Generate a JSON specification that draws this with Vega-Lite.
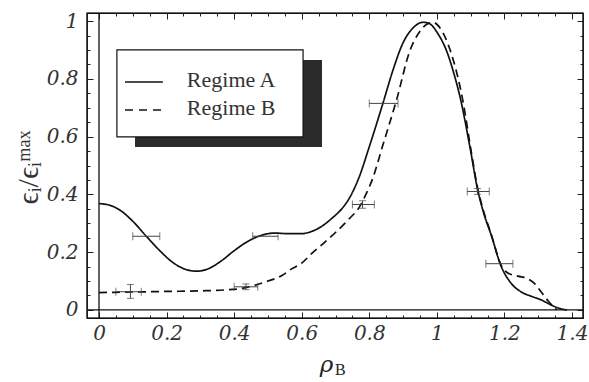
{
  "$schema": "https://vega.github.io/schema/vega-lite/v6.json",
  "width": 496,
  "height": 305,
  "autosize": {"type": "none"},
  "padding": {"left": 87, "top": 13, "right": 6, "bottom": 64},
  "background": "white",
  "config": {
    "view": {"stroke": "#111", "strokeWidth": 1.2},
    "axis": {"grid": false, "domain": false, "labelFont": "DejaVu Serif", "labelFontStyle": "italic", "labelFontSize": 20, "labelColor": "#333", "ticks": true, "tickColor": "#222", "tickWidth": 1, "labelOverlap": false}
  },
  "datasets": {
    "one": [{}],
    "curves": [
      {"series": "Regime A", "x": 0, "y": 0.368}, {"series": "Regime A", "x": 0.03, "y": 0.363}, {"series": "Regime A", "x": 0.06, "y": 0.347}, {"series": "Regime A", "x": 0.1, "y": 0.307}, {"series": "Regime A", "x": 0.14, "y": 0.255}, {"series": "Regime A", "x": 0.18, "y": 0.205}, {"series": "Regime A", "x": 0.22, "y": 0.163}, {"series": "Regime A", "x": 0.26, "y": 0.139}, {"series": "Regime A", "x": 0.29, "y": 0.134}, {"series": "Regime A", "x": 0.32, "y": 0.141}, {"series": "Regime A", "x": 0.36, "y": 0.168}, {"series": "Regime A", "x": 0.4, "y": 0.205}, {"series": "Regime A", "x": 0.44, "y": 0.237}, {"series": "Regime A", "x": 0.48, "y": 0.258}, {"series": "Regime A", "x": 0.52, "y": 0.266}, {"series": "Regime A", "x": 0.56, "y": 0.264}, {"series": "Regime A", "x": 0.6, "y": 0.264}, {"series": "Regime A", "x": 0.63, "y": 0.272}, {"series": "Regime A", "x": 0.66, "y": 0.29}, {"series": "Regime A", "x": 0.69, "y": 0.318}, {"series": "Regime A", "x": 0.72, "y": 0.352}, {"series": "Regime A", "x": 0.74, "y": 0.385}, {"series": "Regime A", "x": 0.77, "y": 0.46}, {"series": "Regime A", "x": 0.8, "y": 0.565}, {"series": "Regime A", "x": 0.84, "y": 0.714}, {"series": "Regime A", "x": 0.87, "y": 0.83}, {"series": "Regime A", "x": 0.9, "y": 0.925}, {"series": "Regime A", "x": 0.93, "y": 0.977}, {"series": "Regime A", "x": 0.96, "y": 0.996}, {"series": "Regime A", "x": 0.98, "y": 0.99}, {"series": "Regime A", "x": 1.0, "y": 0.962}, {"series": "Regime A", "x": 1.03, "y": 0.893}, {"series": "Regime A", "x": 1.05, "y": 0.82}, {"series": "Regime A", "x": 1.07, "y": 0.73}, {"series": "Regime A", "x": 1.1, "y": 0.55}, {"series": "Regime A", "x": 1.12, "y": 0.42}, {"series": "Regime A", "x": 1.14, "y": 0.33}, {"series": "Regime A", "x": 1.16, "y": 0.262}, {"series": "Regime A", "x": 1.19, "y": 0.152}, {"series": "Regime A", "x": 1.22, "y": 0.092}, {"series": "Regime A", "x": 1.25, "y": 0.062}, {"series": "Regime A", "x": 1.28, "y": 0.047}, {"series": "Regime A", "x": 1.31, "y": 0.034}, {"series": "Regime A", "x": 1.34, "y": 0.016}, {"series": "Regime A", "x": 1.37, "y": 0.003}, {"series": "Regime A", "x": 1.385, "y": 0},
      {"series": "Regime B", "x": 0, "y": 0.06}, {"series": "Regime B", "x": 0.1, "y": 0.062}, {"series": "Regime B", "x": 0.2, "y": 0.064}, {"series": "Regime B", "x": 0.3, "y": 0.066}, {"series": "Regime B", "x": 0.37, "y": 0.069}, {"series": "Regime B", "x": 0.42, "y": 0.074}, {"series": "Regime B", "x": 0.46, "y": 0.085}, {"series": "Regime B", "x": 0.5, "y": 0.1}, {"series": "Regime B", "x": 0.54, "y": 0.118}, {"series": "Regime B", "x": 0.57, "y": 0.142}, {"series": "Regime B", "x": 0.6, "y": 0.162}, {"series": "Regime B", "x": 0.63, "y": 0.196}, {"series": "Regime B", "x": 0.66, "y": 0.226}, {"series": "Regime B", "x": 0.7, "y": 0.268}, {"series": "Regime B", "x": 0.74, "y": 0.315}, {"series": "Regime B", "x": 0.77, "y": 0.355}, {"series": "Regime B", "x": 0.79, "y": 0.4}, {"series": "Regime B", "x": 0.81, "y": 0.455}, {"series": "Regime B", "x": 0.84, "y": 0.57}, {"series": "Regime B", "x": 0.88, "y": 0.724}, {"series": "Regime B", "x": 0.92, "y": 0.897}, {"series": "Regime B", "x": 0.95, "y": 0.965}, {"series": "Regime B", "x": 0.975, "y": 0.992}, {"series": "Regime B", "x": 0.99, "y": 0.995}, {"series": "Regime B", "x": 1.01, "y": 0.975}, {"series": "Regime B", "x": 1.04, "y": 0.897}, {"series": "Regime B", "x": 1.077, "y": 0.724}, {"series": "Regime B", "x": 1.1, "y": 0.56}, {"series": "Regime B", "x": 1.12, "y": 0.425}, {"series": "Regime B", "x": 1.14, "y": 0.335}, {"series": "Regime B", "x": 1.16, "y": 0.265}, {"series": "Regime B", "x": 1.19, "y": 0.155}, {"series": "Regime B", "x": 1.21, "y": 0.128}, {"series": "Regime B", "x": 1.24, "y": 0.117}, {"series": "Regime B", "x": 1.27, "y": 0.107}, {"series": "Regime B", "x": 1.29, "y": 0.09}, {"series": "Regime B", "x": 1.31, "y": 0.06}, {"series": "Regime B", "x": 1.33, "y": 0.03}, {"series": "Regime B", "x": 1.355, "y": 0}
    ],
    "errbars": [
      {"x": 0.14, "xmin": 0.1, "xmax": 0.18, "y": 0.255},
      {"x": 0.49, "xmin": 0.455, "xmax": 0.53, "y": 0.255},
      {"x": 0.093, "xmin": 0.05, "xmax": 0.125, "y": 0.063, "ymin": 0.04, "ymax": 0.088},
      {"x": 0.435, "xmin": 0.4, "xmax": 0.47, "y": 0.08, "ymin": 0.07, "ymax": 0.09},
      {"x": 0.78, "xmin": 0.75, "xmax": 0.815, "y": 0.365, "ymin": 0.352, "ymax": 0.378},
      {"x": 0.84, "xmin": 0.8, "xmax": 0.885, "y": 0.715},
      {"x": 1.12, "xmin": 1.09, "xmax": 1.155, "y": 0.41, "ymin": 0.4, "ymax": 0.42},
      {"x": 1.185, "xmin": 1.145, "xmax": 1.225, "y": 0.16}
    ]
  },
  "layer": [
    {
      "data": {"name": "one"},
      "mark": {"type": "rect", "fill": null, "fillOpacity": 0, "stroke": "#111", "strokeWidth": 1.2},
      "encoding": {
        "x": {"datum": -0.0355, "type": "quantitative", "axis": null},
        "x2": {"datum": 1.4325},
        "y": {"datum": -0.028, "type": "quantitative", "axis": null},
        "y2": {"datum": 1.028}
      }
    },
    {
      "data": {"name": "one"},
      "mark": {"type": "rect", "fill": "#2b2b2b"},
      "encoding": {
        "x": {"datum": 0.1066, "type": "quantitative", "axis": null},
        "x2": {"datum": 0.66},
        "y": {"datum": 0.865, "type": "quantitative", "axis": null},
        "y2": {"datum": 0.564}
      }
    },
    {
      "data": {"name": "one"},
      "mark": {"type": "rect", "fill": "white", "stroke": "#111", "strokeWidth": 1.2},
      "encoding": {
        "x": {"datum": 0.053, "type": "quantitative", "axis": null},
        "x2": {"datum": 0.604},
        "y": {"datum": 0.9, "type": "quantitative", "axis": null},
        "y2": {"datum": 0.599}
      }
    },
    {
      "data": {"name": "one"},
      "mark": {"type": "rule", "stroke": "#111", "strokeWidth": 1.5},
      "encoding": {
        "x": {"datum": 0.077, "type": "quantitative", "axis": null},
        "x2": {"datum": 0.189},
        "y": {"datum": 0.789, "type": "quantitative", "axis": null}
      }
    },
    {
      "data": {"name": "one"},
      "mark": {"type": "rule", "stroke": "#111", "strokeWidth": 1.6, "strokeDash": [8, 6]},
      "encoding": {
        "x": {"datum": 0.077, "type": "quantitative", "axis": null},
        "x2": {"datum": 0.189},
        "y": {"datum": 0.692, "type": "quantitative", "axis": null}
      }
    },
    {
      "data": {"name": "one"},
      "mark": {"type": "text", "text": "Regime A", "font": "Liberation Serif", "fontSize": 22, "align": "left", "baseline": "middle", "color": "#333"},
      "encoding": {
        "x": {"datum": 0.26, "type": "quantitative", "axis": null},
        "y": {"datum": 0.796, "type": "quantitative", "axis": null}
      }
    },
    {
      "data": {"name": "one"},
      "mark": {"type": "text", "text": "Regime B", "font": "Liberation Serif", "fontSize": 22, "align": "left", "baseline": "middle", "color": "#333"},
      "encoding": {
        "x": {"datum": 0.26, "type": "quantitative", "axis": null},
        "y": {"datum": 0.699, "type": "quantitative", "axis": null}
      }
    },
    {
      "data": {"name": "one"},
      "mark": {"type": "text", "text": "B", "font": "Liberation Serif", "fontSize": 16, "align": "left", "baseline": "alphabetic", "color": "#222"},
      "encoding": {
        "x": {"datum": 0.6985, "type": "quantitative", "axis": null},
        "y": {"datum": -0.225, "type": "quantitative", "axis": null}
      }
    },
    {
      "data": {"name": "one"},
      "mark": {"type": "rule", "stroke": "#111", "strokeWidth": 1.3},
      "encoding": {"x": {"datum": 0, "type": "quantitative", "axis": null}}
    },
    {
      "data": {"name": "one"},
      "mark": {"type": "rule", "stroke": "#111", "strokeWidth": 1.3},
      "encoding": {"y": {"datum": 0, "type": "quantitative", "axis": null}}
    },
    {
      "data": {"name": "curves"},
      "mark": {"type": "line", "interpolate": "monotone", "stroke": "#111", "strokeWidth": 1.7},
      "encoding": {
        "x": {
          "field": "x", "type": "quantitative",
          "scale": {"domain": [-0.0355, 1.4325], "nice": false, "zero": false},
          "axis": {
            "orient": "bottom",
            "values": [0, 0.05, 0.1, 0.15, 0.2, 0.25, 0.3, 0.35, 0.4, 0.45, 0.5, 0.55, 0.6, 0.65, 0.7, 0.75, 0.8, 0.85, 0.9, 0.95, 1, 1.05, 1.1, 1.15, 1.2, 1.25, 1.3, 1.35, 1.4],
            "labelExpr": "abs(datum.value*5-round(datum.value*5))<0.001 ? format(datum.value,'~g') : ''",
            "ticks": true,
            "tickSize": {"condition": {"test": "abs(datum.value*5-round(datum.value*5))<0.001", "value": -6}, "value": -3},
            "labelPadding": 11,
            "title": "ρ",
            "titleFont": "DejaVu Serif",
            "titleFontStyle": "italic",
            "titleFontWeight": "normal",
            "titleFontSize": 23,
            "titleColor": "#222",
            "titleX": 239,
            "titleY": 53,
            "titleAlign": "center",
            "titleBaseline": "alphabetic"
          }
        },
        "y": {
          "field": "y", "type": "quantitative",
          "scale": {"domain": [-0.028, 1.028], "nice": false, "zero": false},
          "axis": {
            "orient": "left",
            "values": [0, 0.05, 0.1, 0.15, 0.2, 0.25, 0.3, 0.35, 0.4, 0.45, 0.5, 0.55, 0.6, 0.65, 0.7, 0.75, 0.8, 0.85, 0.9, 0.95, 1],
            "labelExpr": "abs(datum.value*5-round(datum.value*5))<0.001 ? format(datum.value,'~g') : ''",
            "ticks": true,
            "tickSize": {"condition": {"test": "abs(datum.value*5-round(datum.value*5))<0.001", "value": -6}, "value": -3},
            "labelPadding": 15,
            "title": "ϵᵢ/ϵᵢᵐᵃˣ",
            "titleFont": "Liberation Serif",
            "titleFontWeight": "normal",
            "titleFontSize": 30,
            "titleColor": "#333",
            "titleX": -50,
            "titleY": 154,
            "titleAngle": -90,
            "titleAlign": "center",
            "titleBaseline": "alphabetic"
          }
        },
        "detail": {"field": "series"},
        "strokeDash": {"field": "series", "type": "nominal", "scale": {"domain": ["Regime A", "Regime B"], "range": [[1, 0], [8, 5]]}, "legend": null}
      }
    },
    {
      "data": {"name": "errbars"},
      "mark": {"type": "rule", "stroke": "#444", "strokeWidth": 1},
      "encoding": {
        "x": {
          "field": "xmin", "type": "quantitative",
          "axis": {
            "orient": "top",
            "values": [0, 0.05, 0.1, 0.15, 0.2, 0.25, 0.3, 0.35, 0.4, 0.45, 0.5, 0.55, 0.6, 0.65, 0.7, 0.75, 0.8, 0.85, 0.9, 0.95, 1, 1.05, 1.1, 1.15, 1.2, 1.25, 1.3, 1.35, 1.4],
            "labels": false,
            "title": null,
            "ticks": true,
            "tickSize": {"condition": {"test": "abs(datum.value*5-round(datum.value*5))<0.001", "value": -6}, "value": -3}
          }
        },
        "x2": {"field": "xmax"},
        "y": {
          "field": "y", "type": "quantitative",
          "axis": {
            "orient": "right",
            "values": [0, 0.05, 0.1, 0.15, 0.2, 0.25, 0.3, 0.35, 0.4, 0.45, 0.5, 0.55, 0.6, 0.65, 0.7, 0.75, 0.8, 0.85, 0.9, 0.95, 1],
            "labels": false,
            "title": null,
            "ticks": true,
            "tickSize": {"condition": {"test": "abs(datum.value*5-round(datum.value*5))<0.001", "value": -6}, "value": -3}
          }
        }
      }
    },
    {
      "data": {"name": "errbars"},
      "transform": [{"fold": ["xmin", "xmax"], "as": ["end", "xend"]}],
      "mark": {"type": "tick", "orient": "vertical", "size": 8, "thickness": 1, "color": "#444"},
      "encoding": {
        "x": {"field": "xend", "type": "quantitative", "axis": null},
        "y": {"field": "y", "type": "quantitative", "axis": null}
      }
    },
    {
      "data": {"name": "errbars"},
      "transform": [{"filter": "isValid(datum.ymin)"}],
      "mark": {"type": "rule", "stroke": "#444", "strokeWidth": 1},
      "encoding": {
        "x": {"field": "x", "type": "quantitative", "axis": null},
        "y": {"field": "ymin", "type": "quantitative", "axis": null},
        "y2": {"field": "ymax"}
      }
    },
    {
      "data": {"name": "errbars"},
      "transform": [{"filter": "isValid(datum.ymin)"}, {"fold": ["ymin", "ymax"], "as": ["end", "yend"]}],
      "mark": {"type": "tick", "orient": "horizontal", "size": 7, "thickness": 1, "color": "#444"},
      "encoding": {
        "x": {"field": "x", "type": "quantitative", "axis": null},
        "y": {"field": "yend", "type": "quantitative", "axis": null}
      }
    }
  ],
  "resolve": {"axis": {"x": "independent", "y": "independent"}}
}
